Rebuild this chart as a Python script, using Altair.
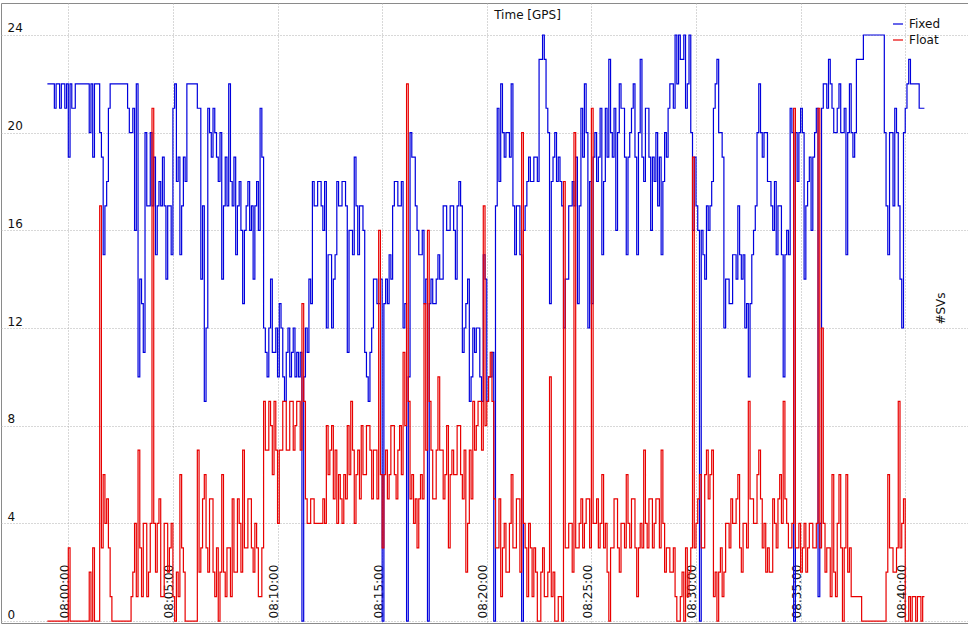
import altair as alt
import pandas as pd

# Each 10 s window (starting 60 s before 08:00:00) holds two readings taken off
# the picture: the first and the second half of the window (the traces flicker).
t_start = -60
step = 10

fixed_a = [
    22, 22, 21, 22, 22, 21, 19, 21, 22, 22,
    22, 22, 20, 19, 22, 20, 15, 18, 22, 22,
    22, 22, 22, 21, 20, 16, 10, 13, 20, 17,
    17, 15, 18, 19, 14, 17, 21, 18, 15, 19,
    22, 22, 22, 21, 14, 9, 21, 19, 20, 18,
    14, 19, 22, 17, 15, 18, 13, 17, 16, 14,
    18, 21, 12, 10, 14, 11, 10, 12, 9, 12,
    11, 10, 10, 0, 12, 14, 18, 17, 18, 16,
    12, 15, 14, 18, 17, 18, 11, 16, 19, 15,
    17, 11, 9, 12, 14, 13, 0, 14, 15, 17,
    18, 17, 12, 0, 20, 19, 16, 15, 13, 0,
    14, 13, 15, 14, 17, 16, 17, 14, 18, 11,
    13, 9, 12, 12, 10, 15, 9, 10, 0, 21,
    22, 19, 20, 22, 15, 17, 0, 17, 19, 18,
    19, 23, 24, 21, 13, 19, 18, 18, 12, 14,
    17, 17, 13, 21, 22, 12, 13, 20, 19, 15,
    21, 23, 19, 16, 22, 21, 15, 20, 22, 15,
    23, 18, 21, 16, 18, 17, 15, 20, 21, 22,
    24, 24, 23, 21, 24, 16, 17, 0, 15, 17,
    17, 21, 23, 20, 12, 14, 13, 15, 17, 14,
    12, 10, 15, 17, 22, 19, 20, 18, 16, 15,
    17, 10, 16, 21, 0, 18, 21, 14, 18, 16,
    20, 1, 21, 22, 23, 21, 20, 22, 20, 15,
    22, 19, 23, 23, 24, 24, 24, 24, 24, 24,
    20, 15, 20, 21, 17, 12, 21, 23, 22, 22,
    21, 21,
]

fixed_b = [
    22, 22, 22, 21, 22, 22, 22, 21, 22, 22,
    22, 22, 22, 22, 22, 19, 17, 21, 22, 22,
    22, 22, 22, 20, 21, 22, 14, 11, 17, 20,
    19, 17, 17, 17, 17, 15, 22, 19, 17, 18,
    22, 22, 22, 21, 17, 12, 20, 21, 19, 20,
    17, 17, 18, 19, 17, 16, 16, 18, 17, 17,
    16, 19, 11, 12, 11, 12, 13, 10, 11, 10,
    12, 11, 11, 10, 11, 13, 17, 18, 17, 18,
    15, 12, 15, 17, 18, 17, 16, 15, 17, 17,
    16, 10, 11, 14, 13, 14, 13, 13, 14, 18,
    17, 18, 13, 10, 19, 17, 15, 16, 14, 13,
    13, 14, 14, 17, 16, 17, 16, 17, 17, 12,
    14, 10, 11, 12, 9, 14, 10, 11, 17, 18,
    20, 20, 19, 17, 17, 15, 16, 18, 18, 19,
    18, 23, 23, 20, 18, 20, 19, 17, 14, 17,
    18, 19, 17, 19, 20, 18, 19, 18, 21, 18,
    19, 20, 21, 20, 21, 19, 19, 21, 19, 20,
    19, 21, 19, 19, 20, 19, 18, 19, 22, 21,
    22, 23, 24, 22, 20, 19, 16, 16, 14, 16,
    18, 22, 20, 19, 14, 13, 15, 14, 15, 15,
    13, 13, 16, 20, 20, 20, 18, 17, 18, 17,
    15, 15, 15, 20, 20, 20, 20, 17, 19, 19,
    21, 4, 22, 21, 22, 20, 21, 20, 21, 20,
    20, 20, 23, 23, 24, 24, 24, 24, 24, 24,
    17, 20, 17, 20, 14, 20, 22, 22, 22, 22,
    21, 21,
]

float_a = [
    0, 0, 0, 0, 0, 0, 3, 0, 0, 0,
    0, 0, 2, 3, 0, 17, 6, 5, 1, 0,
    0, 0, 0, 0, 1, 4, 7, 1, 4, 2,
    21, 2, 5, 1, 4, 3, 1, 2, 6, 2,
    0, 0, 0, 7, 3, 6, 2, 5, 1, 0,
    6, 1, 3, 5, 2, 4, 7, 3, 5, 2,
    3, 1, 9, 7, 8, 9, 4, 7, 9, 7,
    9, 8, 9, 13, 5, 4, 5, 4, 4, 5,
    8, 7, 5, 4, 5, 6, 8, 9, 4, 7,
    8, 6, 8, 5, 7, 16, 3, 7, 6, 8,
    5, 8, 11, 22, 5, 4, 3, 6, 13, 16,
    7, 5, 10, 7, 6, 3, 7, 6, 8, 5,
    2, 7, 9, 8, 9, 17, 9, 11, 5, 3,
    1, 4, 2, 6, 3, 5, 20, 3, 4, 1,
    2, 0, 3, 1, 10, 2, 0, 1, 18, 3,
    4, 20, 3, 5, 4, 5, 21, 4, 3, 6,
    4, 0, 3, 5, 2, 4, 6, 3, 5, 1,
    4, 7, 3, 5, 4, 5, 7, 2, 3, 2,
    1, 0, 2, 3, 2, 19, 4, 6, 3, 7,
    6, 1, 0, 3, 2, 4, 5, 4, 6, 2,
    4, 9, 5, 4, 7, 3, 2, 2, 5, 3,
    6, 9, 4, 3, 21, 3, 2, 4, 3, 4,
    3, 21, 12, 2, 3, 6, 1, 6, 0, 6,
    3, 1, 1, 1, 0, 0, 0, 0, 0, 0,
    0, 6, 3, 2, 9, 4, 0, 1, 1, 0,
    1, 1,
]

float_b = [
    0, 0, 0, 0, 0, 0, 0, 0, 0, 0,
    0, 0, 0, 0, 0, 3, 4, 3, 0, 0,
    0, 0, 0, 0, 2, 1, 3, 4, 1, 4,
    4, 4, 1, 4, 2, 4, 0, 1, 3, 0,
    0, 0, 0, 2, 5, 3, 5, 2, 3, 2,
    2, 3, 1, 2, 5, 2, 3, 5, 3, 4,
    1, 3, 7, 9, 6, 7, 7, 9, 7, 9,
    7, 9, 7, 9, 4, 5, 4, 4, 4, 4,
    6, 8, 7, 6, 4, 5, 6, 7, 6, 5,
    6, 8, 7, 7, 5, 6, 6, 5, 8, 6,
    7, 6, 8, 9, 6, 5, 5, 5, 7, 9,
    5, 7, 7, 5, 8, 6, 6, 8, 6, 7,
    4, 5, 7, 9, 7, 8, 10, 9, 3, 5,
    3, 2, 4, 3, 5, 2, 4, 1, 3, 3,
    0, 2, 1, 2, 1, 0, 1, 0, 3, 4,
    2, 3, 4, 3, 5, 3, 4, 5, 4, 3,
    2, 3, 5, 3, 4, 3, 4, 5, 3, 3,
    3, 4, 5, 3, 5, 3, 4, 3, 2, 3,
    0, 1, 0, 1, 3, 3, 5, 3, 6, 5,
    7, 2, 2, 1, 4, 3, 4, 5, 3, 4,
    3, 5, 4, 6, 5, 4, 3, 2, 4, 5,
    4, 5, 3, 4, 3, 4, 3, 2, 4, 3,
    4, 3, 4, 3, 1, 2, 4, 3, 3, 2,
    1, 1, 1, 0, 0, 0, 0, 0, 0, 0,
    2, 3, 2, 3, 3, 5, 0, 0, 1, 1,
    0, 1,
]

series_names = ["Fixed", "Float"]
series_colors = ["#0000dd", "#e80000"]
x_tick_values = [0, 300, 600, 900, 1200, 1500, 1800, 2100, 2400]
y_tick_values = [0, 4, 8, 12, 16, 20, 24]

rows = []
for name, first, second in [("Fixed", fixed_a, fixed_b), ("Float", float_a, float_b)]:
    for i, (va, vb) in enumerate(zip(first, second)):
        t = t_start + step * i
        rows.append({"t": t, "n": va, "s": name})
        rows.append({"t": t + step / 2, "n": vb, "s": name})
df = pd.DataFrame(rows)

FONT = "DejaVu Sans"

chart = alt.Chart(df).mark_line(interpolate="step-after", strokeWidth=1.2, clip=True).encode(
    x=alt.X(
        "t:Q",
        scale=alt.Scale(domain=[-193, 2580], nice=False, zero=False),
        axis=alt.Axis(
            values=x_tick_values,
            labelExpr="'08:' + (datum.value < 600 ? '0' : '') + (datum.value / 60) + ':00'",
            labelAngle=270,
            labelAlign="left",
            labelBaseline="alphabetic",
            labelPadding=-5,
            ticks=False,
            tickSize=0,
            domain=False,
            grid=True,
            gridDash=[1, 2],
            gridColor="#b0b0b0",
            labelFlush=False,
            labelOverlap=False,
            title="Time [GPS]",
            titleX=526,
            titleY=-609,
            titleAlign="center",
            titleBaseline="middle",
        ),
    ),
    y=alt.Y(
        "n:Q",
        scale=alt.Scale(domain=[-0.08, 25.31], nice=False, zero=False),
        axis=alt.Axis(
            values=y_tick_values,
            labelAlign="left",
            labelBaseline="bottom",
            labelPadding=-6,
            ticks=False,
            tickSize=0,
            domain=False,
            grid=True,
            gridDash=[1, 2],
            gridColor="#b0b0b0",
            labelFlush=False,
            labelOverlap=False,
            title="#SVs",
            titleX=939,
            titleY=305,
            titleAngle=270,
            titleAlign="center",
            titleBaseline="middle",
        ),
    ),
    color=alt.Color(
        "s:N",
        scale=alt.Scale(domain=series_names, range=series_colors),
        legend=alt.Legend(
            title=None,
            orient="none",
            legendX=891,
            legendY=15,
            symbolType="stroke",
            symbolSize=100,
            symbolStrokeWidth=1.2,
            labelOffset=5,
            rowPadding=4,
            padding=0,
            labelFont=FONT,
            labelFontSize=12,
            labelColor="#111111",
        ),
    ),
).properties(
    width=967,
    height=620,
    autosize=alt.AutoSizeParams(type="none"),
    padding={"left": 1, "top": 3, "right": 0, "bottom": 3},
    background="white",
).configure_axis(
    labelFont=FONT,
    labelFontSize=12,
    labelColor="#111111",
    titleFont=FONT,
    titleFontSize=12,
    titleFontWeight="normal",
    titleColor="#111111",
).configure_view(
    stroke="#8a8a8a",
    strokeWidth=1,
)

chart.save("out.html", embed_options={"renderer": "svg", "actions": False})
